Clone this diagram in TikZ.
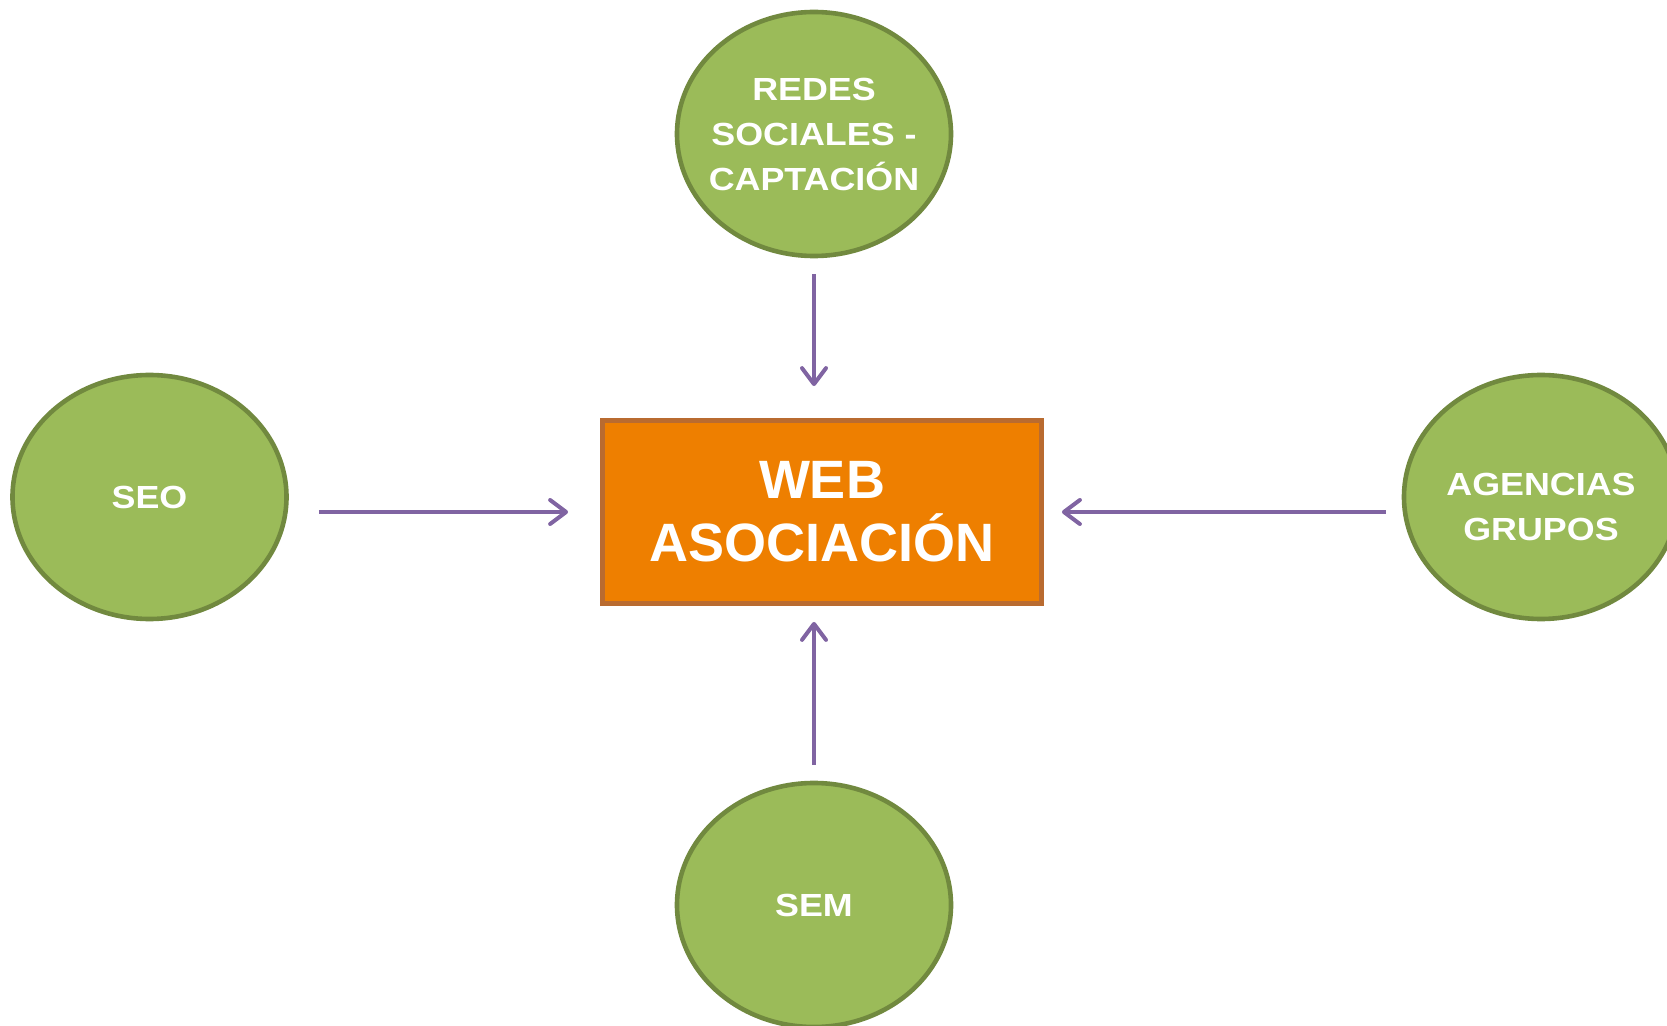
\documentclass[tikz,border=0pt]{standalone}
\usepackage{fontspec}
\setmainfont{Liberation Sans}
\newfontfamily\anchafont[FakeStretch=1.12]{Liberation Sans}
\usetikzlibrary{calc,positioning,arrows.meta,shapes.geometric}
\definecolor{canalverde}{HTML}{9BBB59}
\definecolor{canalborde}{HTML}{71893F}
\definecolor{webnaranja}{HTML}{EE7F00}
\definecolor{webborde}{HTML}{B96B30}
\definecolor{flechamorada}{HTML}{8064A2}
\tikzset{
  canal/.style={ellipse, draw=canalborde, fill=canalverde, line width=2.3pt,
    minimum width=137pt, minimum height=122pt, inner sep=0pt, inner xsep=-14pt,
    text=white, align=center,
    font=\anchafont\bfseries\fontsize{16}{22.5}\selectfont},
  webbox/.style={rectangle, draw=webborde, fill=webnaranja, line width=2.4pt,
    minimum width=219.5pt, minimum height=91.5pt, text=white, align=center,
    font=\bfseries\fontsize{27}{31.5}\selectfont},
  flecha/.style={draw=flechamorada, line width=2pt, -{Straight Barb[length=8pt,width=12pt,round]}}
}
\begin{document}
\begin{tikzpicture}[x=0.5pt,y=-0.5pt]
  \useasboundingbox (0,0) rectangle (1667,1026);

  \node[webbox] at (822,512) (web) {WEB\\ASOCIACIÓN};
  \node[canal] at (814,134) (redes) {REDES\\SOCIALES -\\CAPTACIÓN};
  \node[canal] at (149.5,497) (seo) {SEO};
  \node[canal] at (1541,497) (agencias) {\raisebox{-10.5pt}[0pt][0pt]{\begin{tabular}{@{}c@{}}AGENCIAS\\GRUPOS\end{tabular}}};
  \node[canal] at (814,905) (sem) {SEM};

  \draw[flecha, shorten <=8pt, shorten >=16pt] (redes.south) -- (redes.south |- web.north);
  \draw[flecha, shorten <=15pt, shorten >=16pt] (seo.east |- web.west) -- (web.west);
  \draw[flecha, shorten <=8pt, shorten >=9pt] (agencias.west |- web.east) -- (web.east);
  \draw[flecha, shorten <=8pt, shorten >=8pt] (sem.north) -- (sem.north |- web.south);

\end{tikzpicture}
\end{document}
